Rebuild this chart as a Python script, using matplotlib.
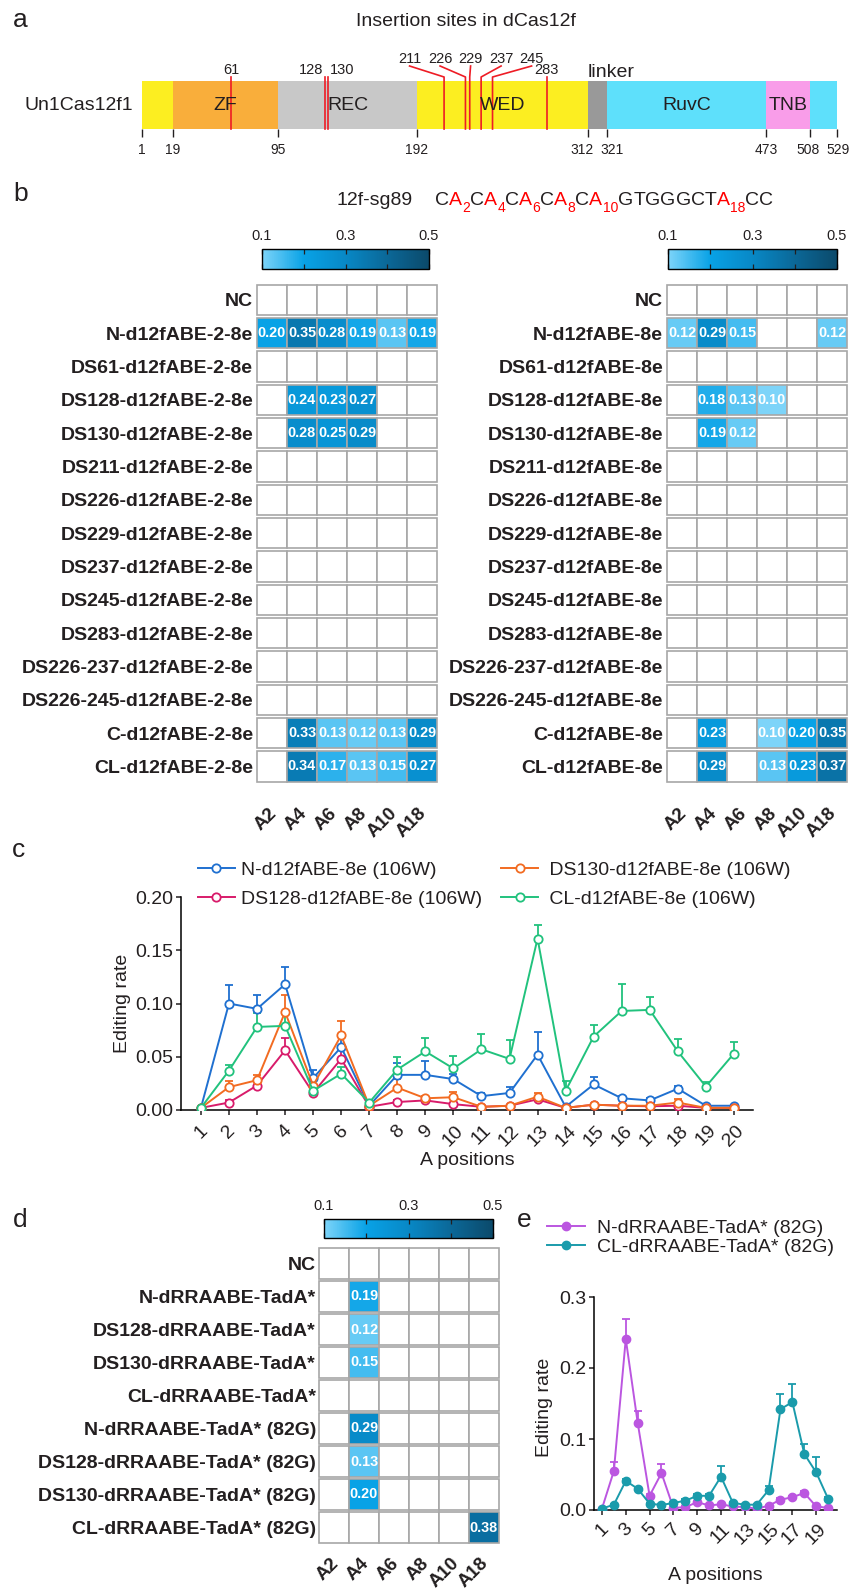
import numpy as np
import matplotlib
matplotlib.use('Agg')
import matplotlib.pyplot as plt
from matplotlib.colors import LinearSegmentedColormap, Normalize
from matplotlib.patches import Rectangle
from matplotlib.cm import ScalarMappable
from matplotlib.ticker import NullLocator

plt.rcParams['font.family'] = ['Liberation Sans', 'DejaVu Sans']
TXT = '#231f20'
plt.rcParams['text.color'] = TXT
plt.rcParams['axes.labelcolor'] = TXT
plt.rcParams['xtick.color'] = TXT
plt.rcParams['ytick.color'] = TXT
plt.rcParams['axes.linewidth'] = 1.1
plt.rcParams['xtick.major.width'] = 1.1
plt.rcParams['ytick.major.width'] = 1.1

# ------------------------------------------------------------------ data
# panel a : Un1Cas12f1 domains and insertion sites
domain_start = [1, 19, 95, 192, 312, 321, 473, 508]
domain_end = [19, 95, 192, 312, 321, 473, 508, 529]
domain_name = ['', 'ZF', 'REC', 'WED', '', 'RuvC', 'TNB', '']
domain_color = ['#fcee21', '#f9ae3b', '#c8c8c8', '#fcee21', '#999999',
                '#5ee0fb', '#f99de9', '#5ee0fb']
boundary_ticks = [1, 19, 95, 192, 312, 321, 473, 508, 529]
insertion_sites = [61, 128, 130, 211, 226, 229, 237, 245, 283]

# panel b
guide_name = '12f-sg89'
protospacer = 'CACACACACAGTGGGCTACC'
edited_positions = [2, 4, 6, 8, 10, 18]
a_cols = ['A2', 'A4', 'A6', 'A8', 'A10', 'A18']
N = np.nan
rows_b_left = ['NC', 'N-d12fABE-2-8e', 'DS61-d12fABE-2-8e', 'DS128-d12fABE-2-8e',
               'DS130-d12fABE-2-8e', 'DS211-d12fABE-2-8e', 'DS226-d12fABE-2-8e',
               'DS229-d12fABE-2-8e', 'DS237-d12fABE-2-8e', 'DS245-d12fABE-2-8e',
               'DS283-d12fABE-2-8e', 'DS226-237-d12fABE-2-8e', 'DS226-245-d12fABE-2-8e',
               'C-d12fABE-2-8e', 'CL-d12fABE-2-8e']
vals_b_left = [
    [N, N, N, N, N, N],
    [0.20, 0.35, 0.28, 0.19, 0.13, 0.19],
    [N, N, N, N, N, N],
    [N, 0.24, 0.23, 0.27, N, N],
    [N, 0.28, 0.25, 0.29, N, N],
    [N, N, N, N, N, N],
    [N, N, N, N, N, N],
    [N, N, N, N, N, N],
    [N, N, N, N, N, N],
    [N, N, N, N, N, N],
    [N, N, N, N, N, N],
    [N, N, N, N, N, N],
    [N, N, N, N, N, N],
    [N, 0.33, 0.13, 0.12, 0.13, 0.29],
    [N, 0.34, 0.17, 0.13, 0.15, 0.27],
]
rows_b_right = ['NC', 'N-d12fABE-8e', 'DS61-d12fABE-8e', 'DS128-d12fABE-8e',
                'DS130-d12fABE-8e', 'DS211-d12fABE-8e', 'DS226-d12fABE-8e',
                'DS229-d12fABE-8e', 'DS237-d12fABE-8e', 'DS245-d12fABE-8e',
                'DS283-d12fABE-8e', 'DS226-237-d12fABE-8e', 'DS226-245-d12fABE-8e',
                'C-d12fABE-8e', 'CL-d12fABE-8e']
vals_b_right = [
    [N, N, N, N, N, N],
    [0.12, 0.29, 0.15, N, N, 0.12],
    [N, N, N, N, N, N],
    [N, 0.18, 0.13, 0.10, N, N],
    [N, 0.19, 0.12, N, N, N],
    [N, N, N, N, N, N],
    [N, N, N, N, N, N],
    [N, N, N, N, N, N],
    [N, N, N, N, N, N],
    [N, N, N, N, N, N],
    [N, N, N, N, N, N],
    [N, N, N, N, N, N],
    [N, N, N, N, N, N],
    [N, 0.23, N, 0.10, 0.20, 0.35],
    [N, 0.29, N, 0.13, 0.23, 0.37],
]

# panel c
positions = list(range(1, 21))
c_labels = ['N-d12fABE-8e (106W)', 'DS128-d12fABE-8e (106W)',
            ' DS130-d12fABE-8e (106W)', ' CL-d12fABE-8e (106W)']
c_N_mean = [0.002, 0.100, 0.095, 0.118, 0.030, 0.059, 0.004, 0.033, 0.033, 0.029,
            0.013, 0.016, 0.052, 0.003, 0.024, 0.011, 0.009, 0.020, 0.004, 0.004]
c_N_sd = [0.001, 0.017, 0.013, 0.016, 0.008, 0.012, 0.002, 0.011, 0.013, 0.005,
          0.003, 0.006, 0.021, 0.001, 0.007, 0.002, 0.002, 0.003, 0.001, 0.001]
c_DS128_mean = [0.002, 0.007, 0.023, 0.056, 0.016, 0.048, 0.003, 0.0075, 0.009, 0.0055,
                0.003, 0.004, 0.010, 0.002, 0.005, 0.004, 0.0035, 0.004, 0.002, 0.002]
c_DS128_sd = [0.001, 0.002, 0.004, 0.012, 0.002, 0.008, 0.001, 0.002, 0.002, 0.001,
              0.001, 0.001, 0.002, 0.001, 0.001, 0.001, 0.001, 0.001, 0.001, 0.001]
c_DS130_mean = [0.002, 0.0215, 0.028, 0.092, 0.023, 0.070, 0.004, 0.021, 0.011, 0.012,
                0.003, 0.004, 0.0125, 0.002, 0.005, 0.004, 0.004, 0.007, 0.002, 0.002]
c_DS130_sd = [0.001, 0.006, 0.005, 0.016, 0.004, 0.014, 0.001, 0.008, 0.002, 0.005,
              0.001, 0.001, 0.003, 0.001, 0.001, 0.001, 0.001, 0.003, 0.001, 0.001]
c_CL_mean = [0.002, 0.037, 0.078, 0.079, 0.018, 0.034, 0.007, 0.038, 0.055, 0.039,
             0.057, 0.048, 0.161, 0.018, 0.069, 0.093, 0.094, 0.055, 0.022, 0.053]
c_CL_sd = [0.001, 0.005, 0.013, 0.012, 0.003, 0.006, 0.002, 0.012, 0.013, 0.012,
           0.014, 0.018, 0.013, 0.009, 0.011, 0.025, 0.012, 0.012, 0.004, 0.011]

# panel d
rows_d = ['NC', 'N-dRRAABE-TadA*', 'DS128-dRRAABE-TadA*', 'DS130-dRRAABE-TadA*',
          'CL-dRRAABE-TadA*', 'N-dRRAABE-TadA* (82G)', 'DS128-dRRAABE-TadA* (82G)',
          'DS130-dRRAABE-TadA* (82G)', 'CL-dRRAABE-TadA* (82G)']
vals_d = [
    [N, N, N, N, N, N],
    [N, 0.19, N, N, N, N],
    [N, 0.12, N, N, N, N],
    [N, 0.15, N, N, N, N],
    [N, N, N, N, N, N],
    [N, 0.29, N, N, N, N],
    [N, 0.13, N, N, N, N],
    [N, 0.20, N, N, N, N],
    [N, N, N, N, N, 0.38],
]

# panel e
e_labels = ['N-dRRAABE-TadA* (82G)', 'CL-dRRAABE-TadA* (82G)']
e_N_mean = [0.002, 0.055, 0.241, 0.123, 0.020, 0.052, 0.003, 0.004, 0.011, 0.0065,
            0.008, 0.005, 0.004, 0.002, 0.006, 0.0145, 0.018, 0.024, 0.005, 0.003]
e_N_sd = [0.001, 0.012, 0.028, 0.017, 0.003, 0.013, 0.001, 0.001, 0.002, 0.001,
          0.001, 0.001, 0.001, 0.001, 0.001, 0.002, 0.002, 0.003, 0.001, 0.001]
e_CL_mean = [0.002, 0.0075, 0.041, 0.030, 0.009, 0.007, 0.010, 0.013, 0.020, 0.020,
             0.047, 0.010, 0.0075, 0.0075, 0.028, 0.142, 0.152, 0.079, 0.053, 0.016]
e_CL_sd = [0.001, 0.001, 0.003, 0.002, 0.001, 0.001, 0.001, 0.002, 0.003, 0.003,
           0.015, 0.001, 0.001, 0.001, 0.006, 0.022, 0.026, 0.014, 0.022, 0.002]

# ------------------------------------------------------------------ layout
W, H = 852, 1593
fig = plt.figure(figsize=(W / 100, H / 100), dpi=100)
fig.patch.set_facecolor('white')
renderer = fig.canvas.get_renderer()


def axpx(x0, y0, x1, y1):
    return fig.add_axes([x0 / W, 1 - y1 / H, (x1 - x0) / W, (y1 - y0) / H])


def pt(px):
    return px * 72 / 100


def spread(px, min_gap, step):
    """group close positions and spread them evenly around their mean"""
    px = np.asarray(px, float)
    groups, cur = [], [0]
    for k in range(1, len(px)):
        if px[k] - px[k - 1] < min_gap:
            cur.append(k)
        else:
            groups.append(cur)
            cur = [k]
    groups.append(cur)
    out = px.copy()
    sizes = np.ones(len(px), int)
    for g in groups:
        n = len(g)
        if n > 1:
            out[g] = px[g].mean() + (np.arange(n) - (n - 1) / 2) * step
        sizes[g] = n
    return out, sizes


canvas = fig.add_axes([0, 0, 1, 1])
canvas.axis('off')
canvas.set_xlim(0, W)
canvas.set_ylim(H, 0)

PANEL_FS = 19
for lab, x, y in [('a', 13, 27), ('b', 13, 201), ('c', 12, 857), ('d', 13, 1227), ('e', 517, 1227)]:
    canvas.text(x, y, lab, fontsize=PANEL_FS, ha='left', va='baseline')

# ------------------------------------------------------------------ panel a
# schematic (not-to-scale) axis: domain boundaries anchored at layout pixels
A_AXIS_PX = [142, 173, 278, 417, 588, 607, 766, 810, 837]
_res = np.array([-5000.0] + boundary_ticks + [5000.0])
_px = np.array([A_AXIS_PX[0] - 5001 * 1.3] + A_AXIS_PX + [A_AXIS_PX[-1] + 4471 * 1.3])


def fwd(x):
    return np.interp(np.asarray(x, float), _res, _px)


def inv(p):
    return np.interp(np.asarray(p, float), _px, _res)


BAR_TOP, BAR_BOT = 81, 129
BAR_H = BAR_BOT - BAR_TOP
ax_a = axpx(A_AXIS_PX[0], BAR_TOP, A_AXIS_PX[-1], BAR_BOT)
ax_a.set_xscale('function', functions=(fwd, inv))
ax_a.set_xlim(boundary_ticks[0], boundary_ticks[-1])
ax_a.set_ylim(0, 1)
widths = np.array(domain_end) - np.array(domain_start)
ax_a.barh(0.5, widths, left=domain_start, height=1, color=domain_color, linewidth=0)
for s, e, nm in zip(domain_start, domain_end, domain_name):
    if nm:
        ax_a.text(float(inv((fwd(s) + fwd(e)) / 2)), 0.5, nm, ha='center', va='center',
                  fontsize=14)
ax_a.text(312, 1 + 4 / BAR_H, 'linker', ha='left', va='baseline', fontsize=14, clip_on=False)
for sp in ax_a.spines.values():
    sp.set_visible(False)
ax_a.set_yticks([])
ax_a.set_xticks(boundary_ticks, [''] * len(boundary_ticks))
ax_a.xaxis.set_minor_locator(NullLocator())
ax_a.tick_params(axis='x', direction='out', length=pt(8), width=1.0)
tick_lab_px, _ = spread(fwd(boundary_ticks), 30, 30)
for b, lx in zip(boundary_ticks, tick_lab_px):
    ax_a.text(float(inv(lx)), -14 / BAR_H, str(b), ha='center', va='top', fontsize=10,
              clip_on=False)

RED = '#ee1c25'
LINE_TOP = 1 + 4 / BAR_H
SLANT_TOP = 1 + 15 / BAR_H
LABEL_LOW = 1 + 6.5 / BAR_H
LABEL_HIGH = 1 + 18 / BAR_H
site_lab_px, site_group = spread(fwd(insertion_sites), 28, 30.5)
for s, lx, n in zip(insertion_sites, site_lab_px, site_group):
    if n >= 3:
        ax_a.plot([s, s, float(inv(lx))], [0, LINE_TOP, SLANT_TOP], color=RED, lw=1.2,
                  clip_on=False)
        ax_a.text(float(inv(lx)), LABEL_HIGH, str(s), ha='center', va='baseline',
                  fontsize=10.5, clip_on=False)
    else:
        ax_a.plot([s, s], [0, LINE_TOP], color=RED, lw=1.2, clip_on=False)
        ax_a.text(float(inv(lx)), LABEL_LOW, str(s), ha='center', va='baseline',
                  fontsize=10.5, clip_on=False)

canvas.text(133, 105, 'Un1Cas12f1', ha='right', va='center', fontsize=14)
canvas.text(466, 21, 'Insertion sites in dCas12f', ha='center', va='center', fontsize=14)

# ------------------------------------------------------------------ panel b sequence
SEQ_Y = 205
canvas.text(337, SEQ_Y, guide_name, fontsize=14, ha='left', va='baseline')
xcur = 435.0
for i, base in enumerate(protospacer, start=1):
    col = 'red' if i in edited_positions else TXT
    t = canvas.text(xcur, SEQ_Y, base, fontsize=14, ha='left', va='baseline', color=col)
    xcur += t.get_window_extent(renderer).width
    if i in edited_positions:
        s = canvas.text(xcur + 0.3, SEQ_Y + 6.5, str(i), fontsize=10, ha='left',
                        va='baseline', color='red')
        xcur += s.get_window_extent(renderer).width + 0.3

# ------------------------------------------------------------------ colormap
cmap = LinearSegmentedColormap.from_list(
    'blues', [(0.0, '#7dd4f9'), (0.25, '#08a2e6'), (0.5, '#0888c6'),
              (0.75, '#0b6898'), (1.0, '#0b4a6b')])
norm = Normalize(0.1, 0.5)
EDGE = '#a7a7a7'
GAP = 0.045


def colorbar(x0, y0, x1, y1):
    cax = axpx(x0, y0, x1, y1)
    cb = fig.colorbar(ScalarMappable(norm=norm, cmap=cmap), cax=cax, orientation='horizontal')
    cb.set_ticks([0.1, 0.2, 0.3, 0.4, 0.5], labels=['0.1', '', '0.3', '', '0.5'])
    cb.minorticks_off()
    cax.tick_params(axis='x', direction='in', top=True, bottom=True, labeltop=True,
                    labelbottom=False, length=3.5, width=0.9, pad=4, labelsize=10.5)
    cb.outline.set_linewidth(1.0)
    return cb


def heatmap(ax, vals, rows, cols, pad_px, col_off):
    n = len(rows)
    ax.set_xlim(0, len(cols))
    ax.set_ylim(n, 0)
    for i in range(n):
        for j in range(len(cols)):
            v = vals[i][j]
            fc = 'white' if np.isnan(v) else cmap(norm(v))
            ax.add_patch(Rectangle((j, i + GAP), 1, 1 - 2 * GAP, facecolor=fc,
                                   edgecolor=EDGE, lw=1.2, clip_on=False))
            if not np.isnan(v):
                ax.text(j + 0.5, i + 0.5, f'{v:.2f}', ha='center', va='center',
                        color='white', fontsize=10.4, fontweight='bold')
    ax.set_yticks(np.arange(n) + 0.5, rows, fontsize=14, fontweight='bold')
    ax.tick_params(axis='y', length=0, pad=pt(pad_px))
    ax.set_xticks([])
    for sp in ax.spines.values():
        sp.set_visible(False)
    for j, c in enumerate(cols):
        ax.annotate(c, xy=(j + 0.5, n), xytext=(1.5, -col_off), textcoords='offset points',
                    rotation=45, ha='right', va='center', rotation_mode='anchor',
                    fontsize=13.5, fontweight='bold', annotation_clip=False)


colorbar(262, 249, 429, 269)
colorbar(668, 249, 837, 269)
heatmap(axpx(257, 283, 437, 783), vals_b_left, rows_b_left, a_cols, 4, 20)
heatmap(axpx(667, 283, 847, 783), vals_b_right, rows_b_right, a_cols, 4, 20)

# ------------------------------------------------------------------ panel c
ax_c = axpx(181, 897, 753, 1110)
c_series = [(c_N_mean, c_N_sd, '#1f70d0'), (c_DS128_mean, c_DS128_sd, '#d81b6a'),
            (c_DS130_mean, c_DS130_sd, '#f26b21'), (c_CL_mean, c_CL_sd, '#21c27d')]
handles = []
for (m, sd, col), lab in zip(c_series, c_labels):
    ax_c.errorbar(positions, m, yerr=[np.zeros(len(sd)), sd], fmt='none', ecolor=col,
                  elinewidth=1.3, capsize=3, capthick=1.3, zorder=2)
    ln, = ax_c.plot(positions, m, '-o', color=col, lw=1.4, ms=6, mfc='white', mew=1.3,
                    label=lab, zorder=3)
    handles.append(ln)
ax_c.set_xlim(0.29, 20.68)
ax_c.set_ylim(0, 0.20)
ax_c.set_yticks([0, 0.05, 0.10, 0.15, 0.20], ['0.00', '0.05', '0.10', '0.15', '0.20'])
ax_c.set_xticks(positions, [str(p) for p in positions], rotation=45, ha='center')
ax_c.tick_params(axis='both', direction='out', length=pt(5), labelsize=14)
ax_c.tick_params(axis='y', pad=2)
ax_c.tick_params(axis='x', pad=5)
ax_c.spines['top'].set_visible(False)
ax_c.spines['right'].set_visible(False)
ax_c.set_xlabel('A positions', fontsize=14)
ax_c.xaxis.set_label_coords(0.5, -(1152 - 1110) / 213)
ax_c.set_ylabel('Editing rate', fontsize=14)
ax_c.yaxis.set_label_coords(-(181 - 131) / 572, 0.5)
ax_c.legend(handles=handles, loc='upper left', bbox_to_anchor=(198 / W, 1 - 861 / H),
            bbox_transform=fig.transFigure, ncol=2, frameon=False, borderpad=0,
            borderaxespad=0, handlelength=1.9, handletextpad=0.3, columnspacing=1.0,
            labelspacing=0.6, fontsize=14)

# ------------------------------------------------------------------ panel d
colorbar(324, 1219, 493, 1238)
heatmap(axpx(319, 1247, 499, 1544), vals_d, rows_d, a_cols, 3, 12)

# ------------------------------------------------------------------ panel e
ax_e = axpx(594, 1297, 837, 1510)
e_series = [(e_N_mean, e_N_sd, '#bb56e0'), (e_CL_mean, e_CL_sd, '#1a9bab')]
handles = []
for (m, sd, col), lab in zip(e_series, e_labels):
    ax_e.errorbar(positions, m, yerr=[np.zeros(len(sd)), sd], fmt='none', ecolor=col,
                  elinewidth=1.3, capsize=3, capthick=1.3, zorder=2)
    ln, = ax_e.plot(positions, m, '-o', color=col, lw=1.4, ms=6, label=lab, zorder=3)
    handles.append(ln)
ax_e.set_xlim(0.33, 20.75)
ax_e.set_ylim(0, 0.3)
ax_e.set_yticks([0, 0.1, 0.2, 0.3], ['0.0', '0.1', '0.2', '0.3'])
odd = positions[::2]
ax_e.set_xticks(odd, [str(p) for p in odd], rotation=45, ha='center')
ax_e.tick_params(axis='both', direction='out', length=pt(5), labelsize=14)
ax_e.tick_params(axis='y', pad=2)
ax_e.tick_params(axis='x', pad=4)
ax_e.spines['top'].set_visible(False)
ax_e.spines['right'].set_visible(False)
ax_e.set_xlabel('A positions', fontsize=14)
ax_e.xaxis.set_label_coords(0.5, -(1567 - 1510) / 213)
ax_e.set_ylabel('Editing rate', fontsize=14)
ax_e.yaxis.set_label_coords(-(594 - 553) / 243, 0.48)
ax_e.legend(handles=handles, loc='upper left', bbox_to_anchor=(547 / W, 1 - 1219 / H),
            bbox_transform=fig.transFigure, ncol=1, frameon=False, borderpad=0,
            borderaxespad=0, handlelength=1.95, handletextpad=0.6, labelspacing=0.08,
            fontsize=14)

fig.savefig('out.png', dpi=100, facecolor='white')
